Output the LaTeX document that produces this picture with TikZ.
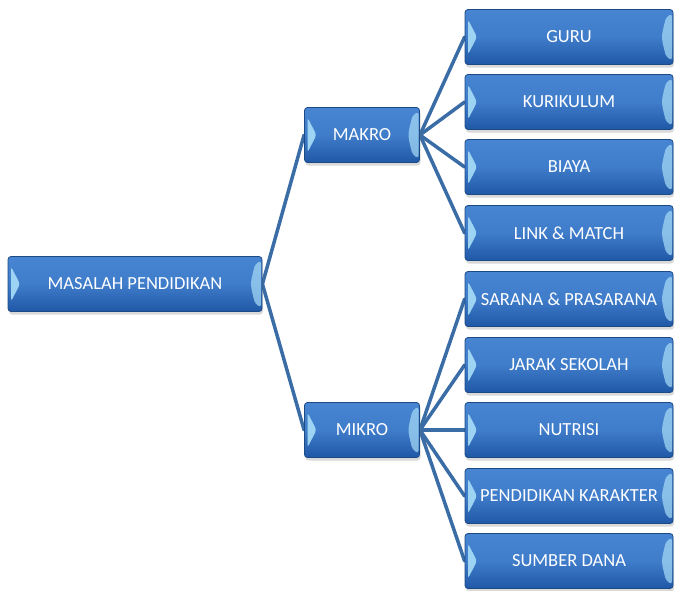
\documentclass[tikz,border=0pt]{standalone}
\usepackage{fontspec}
\setsansfont{Carlito}
\usepackage{tikz}
\usetikzlibrary{positioning,shadows,backgrounds}

\definecolor{boxtop}{HTML}{4785D2}
\definecolor{boxbot}{HTML}{1F58A6}
\definecolor{boxline}{HTML}{1C4A85}
\definecolor{linkblue}{HTML}{3A6CA6}
\definecolor{glow}{HTML}{A8DDF8}

\tikzset{
  box/.style={draw=boxline, line width=0.8pt, rounded corners=3pt,
    top color=boxtop, bottom color=boxbot, middle color=boxtop!80!boxbot,
    text=white, font=\sffamily\fontsize{18.5}{20}\selectfont,
    minimum height=55pt, inner sep=0pt,
    drop shadow={opacity=0.3, shadow xshift=1pt, shadow yshift=-3pt},
    path picture={
      \fill[glow, opacity=0.9]
        ([xshift=3pt,yshift=-10pt]path picture bounding box.north west)
        -- ([xshift=3pt,yshift=10pt]path picture bounding box.south west)
        -- ([xshift=12pt]path picture bounding box.west) -- cycle;
      \fill[glow, opacity=0.7]
        ([xshift=-1pt,yshift=-4pt]path picture bounding box.north east)
        -- ([xshift=-1pt,yshift=4pt]path picture bounding box.south east)
        -- ([xshift=-7pt,yshift=8pt]path picture bounding box.south east)
        .. controls ([xshift=-12pt]path picture bounding box.east)
        .. ([xshift=-7pt,yshift=-8pt]path picture bounding box.north east)
        -- cycle;
    }},
  rootbox/.style={box, minimum width=254pt},
  midbox/.style={box, minimum width=115pt},
  leafbox/.style={box, minimum width=208pt},
  link/.style={draw=linkblue, line width=3.5pt, line cap=round}
}

\begin{document}
\begin{tikzpicture}[x=1pt, y=1pt]
        \useasboundingbox (0,0) rectangle (676,-590);

        % Level 0
        \node[rootbox] (masalah) at (135,-284) {MASALAH PENDIDIKAN};

        % Level 1
        \node[midbox] (makro) at (362,-135) {MAKRO};
        \node[midbox] (mikro) at (362,-430) {MIKRO};

        % Level 2
        \node[leafbox] (guru) at (569,-37) {GURU};
        \node[leafbox] (kurikulum) at (569,-102) {KURIKULUM};
        \node[leafbox] (biaya) at (569,-167) {BIAYA};
        \node[leafbox] (linkmatch) at (569,-233) {LINK \& MATCH};
        \node[leafbox] (sarana) at (569,-299) {SARANA \& PRASARANA};
        \node[leafbox] (jarak) at (569,-365) {JARAK SEKOLAH};
        \node[leafbox] (nutrisi) at (569,-430) {NUTRISI};
        \node[leafbox] (karakter) at (569,-496) {PENDIDIKAN KARAKTER};
        \node[leafbox] (dana) at (569,-561) {SUMBER DANA};

        % Connections
        \begin{scope}[on background layer]
        \draw[link] (masalah.east) -- (makro.west);
        \draw[link] (masalah.east) -- (mikro.west);

        \draw[link] (makro.east) -- (guru.west);
        \draw[link] (makro.east) -- (kurikulum.west);
        \draw[link] (makro.east) -- (biaya.west);
        \draw[link] (makro.east) -- (linkmatch.west);

        \draw[link] (mikro.east) -- (sarana.west);
        \draw[link] (mikro.east) -- (jarak.west);
        \draw[link] (mikro.east) -- (nutrisi.west);
        \draw[link] (mikro.east) -- (karakter.west);
        \draw[link] (mikro.east) -- (dana.west);
        \end{scope}

\end{tikzpicture}
\end{document}
